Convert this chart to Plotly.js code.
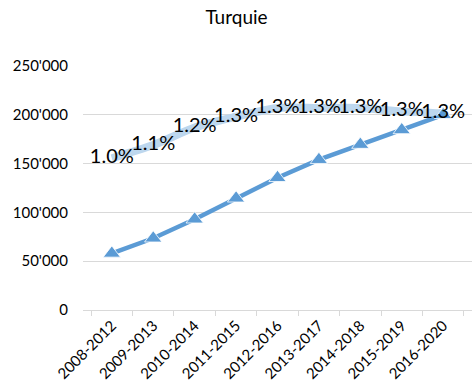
<!DOCTYPE html>
<html>
<head>
<meta charset="utf-8">
<script src="https://cdn.plot.ly/plotly-3.0.1.min.js"></script>
<style>html,body{margin:0;padding:0;background:#fff;}#chart{width:473px;height:392px;}</style>
</head>
<body>
<div id="chart"></div>
<script>
const periods = ["2008-2012","2009-2013","2010-2014","2011-2015","2012-2016","2013-2017","2014-2018","2015-2019","2016-2020"];
const totalValues = [58000, 73500, 93000, 114500, 135500, 154000, 169500, 184500, 200000];
const shareLine = [155500, 169000, 187000, 198000, 207000, 207000, 207000, 203500, 201500];
const shareLabels = ["1.0%","1.1%","1.2%","1.3%","1.3%","1.3%","1.3%","1.3%","1.3%"];

const font = "Lato, 'Open Sans', sans-serif";

const traces = [
  {
    x: periods, y: shareLine, type: "scatter", mode: "lines",
    line: {color: "#BDD7EE", width: 8, shape: "spline", smoothing: 0.8},
    hoverinfo: "skip", showlegend: false
  },
  {
    x: periods, y: totalValues, type: "scatter", mode: "lines+markers",
    line: {color: "#5B9BD5", width: 4.5},
    marker: {symbol: "triangle-up", size: 15, color: "#5B9BD5", line: {color: "#ffffff", width: 0.8}},
    showlegend: false
  },
  {
    x: periods, y: shareLine, type: "scatter", mode: "text",
    text: shareLabels, textposition: "middle center",
    textfont: {family: font, size: 20, color: "#000000"},
    hoverinfo: "skip", showlegend: false
  }
];

const layout = {
  width: 473, height: 392,
  margin: {l: 83, r: 1, t: 66, b: 82},
  paper_bgcolor: "#ffffff", plot_bgcolor: "#ffffff",
  separators: ".'",
  title: {text: "Turquie", x: 0.5, xanchor: "center", y: 0.955, yanchor: "middle",
          font: {family: font, size: 19, color: "#000000"}},
  xaxis: {
    type: "category", showgrid: false, showline: true, linecolor: "#d9d9d9", linewidth: 1,
    ticks: "outside", tickson: "boundaries", ticklen: 5, tickcolor: "#d9d9d9",
    tickangle: -45, tickfont: {family: font, size: 15, color: "#000000"},
    fixedrange: true, zeroline: false
  },
  yaxis: {
    range: [0, 250000], tickvals: [0, 50000, 100000, 150000, 200000, 250000],
    tickformat: ",", showgrid: true, gridcolor: "#d9d9d9", gridwidth: 1,
    zeroline: false, showline: false, ticks: "", ticklabelstandoff: 14,
    tickfont: {family: font, size: 15, color: "#000000"}, fixedrange: true
  },
  showlegend: false
};

Plotly.newPlot("chart", traces, layout, {displayModeBar: false, staticPlot: true});
</script>
</body>
</html>
